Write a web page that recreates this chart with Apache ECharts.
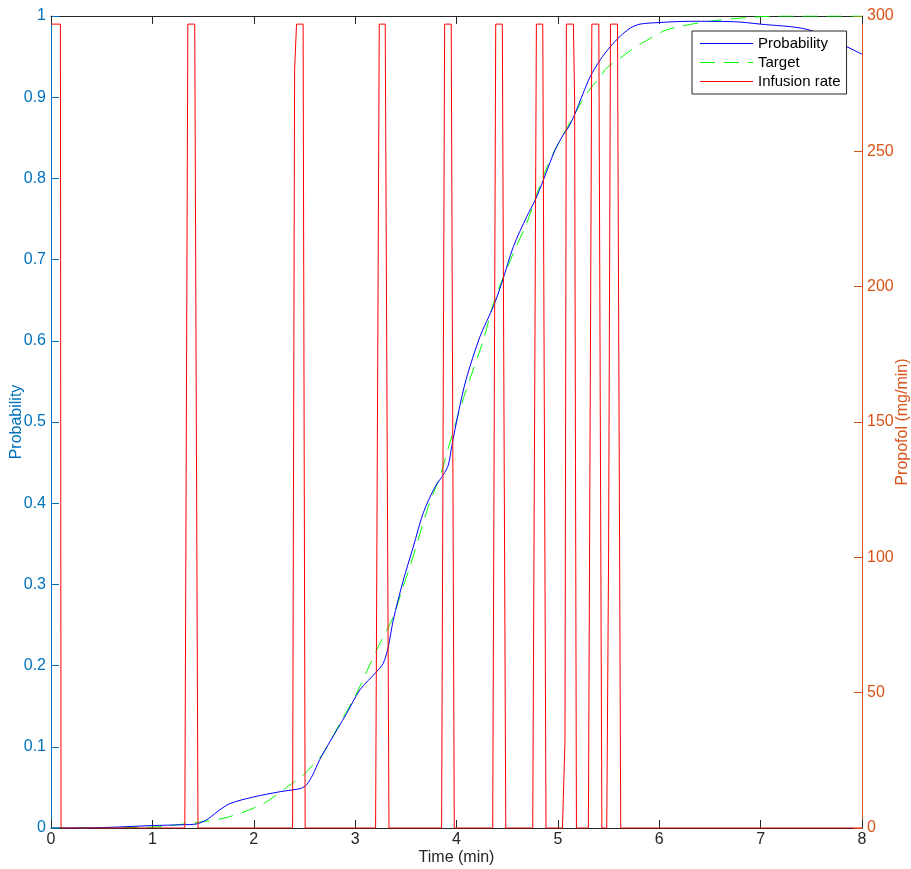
<!DOCTYPE html>
<html>
<head>
<meta charset="utf-8">
<script src="https://cdn.jsdelivr.net/npm/echarts@6/dist/echarts.min.js"></script>
<style>html,body{margin:0;padding:0;background:#fff;}#c{width:911px;height:869px;}</style>
</head>
<body>
<div id="c"></div>
<script>
// ---- data ----
const xTicks = [0,1,2,3,4,5,6,7,8];
const probTime = [0,0.5,1.0,1.3,1.435,1.52,1.58,1.65,1.765,1.99,2.26,2.42,2.47,2.52,2.58,2.65,2.75,2.916,3.047,3.212,3.278,3.327,3.376,3.475,3.573,3.672,3.788,3.870,3.919,3.953,4.018,4.094,4.231,4.363,4.446,4.561,4.693,4.775,4.857,4.972,5.05,5.10,5.153,5.25,5.318,5.417,5.516,5.614,5.713,5.81,6.009,6.305,6.73,6.996,7.457,7.785,8.0];
const probValue = [0,0.0005,0.003,0.004,0.005,0.009,0.014,0.021,0.030,0.038,0.0447,0.0476,0.049,0.053,0.065,0.084,0.106,0.141,0.170,0.1925,0.203,0.223,0.256,0.305,0.346,0.388,0.420,0.435,0.447,0.470,0.511,0.552,0.605,0.642,0.671,0.716,0.753,0.773,0.798,0.835,0.853,0.862,0.875,0.905,0.925,0.946,0.962,0.975,0.985,0.990,0.992,0.9935,0.993,0.990,0.9836,0.966,0.953];
const targetTime = [0,1.0,1.17,1.5,1.764,2.093,2.356,2.472,2.586,2.685,2.85,3.015,3.13,3.245,3.376,3.459,3.541,3.722,3.837,3.919,4.002,4.094,4.265,4.38,4.561,4.693,4.825,4.94,5.187,5.285,5.417,5.482,5.614,5.745,5.877,6.075,6.47,6.865,7.2,8.0];
const targetValue = [0,0.001,0.003,0.0078,0.014,0.030,0.053,0.063,0.078,0.092,0.129,0.166,0.197,0.2275,0.260,0.292,0.322,0.396,0.433,0.468,0.5025,0.539,0.601,0.652,0.708,0.745,0.792,0.827,0.884,0.905,0.925,0.936,0.948,0.960,0.970,0.983,0.993,0.998,1.0,1.0];
const infTime = [0,0.093,0.099, 1.32,1.35,1.418,1.45, 2.383,2.403,2.422,2.487,2.507, 3.202,3.238,3.297,3.334, 3.853,3.883,3.948,3.978, 4.357,4.387,4.452,4.486, 4.752,4.788,4.851,4.883, 5.045,5.07,5.084,5.153,5.165,5.183, 5.301,5.335,5.404,5.434, 5.482,5.50,5.519,5.588,5.62, 8.0];
const infRate = [297,297,0, 0,297,297,0, 0,280,297,297,0, 0,297,297,0, 0,297,297,0, 0,297,297,0, 0,297,297,0, 0,32,297,297,270,0, 0,297,297,0, 0,100,297,297,0, 0];

const pair = (a,b) => a.map((t,i)=>[t,b[i]]);
const FONT = 'Liberation Sans, Arial, Helvetica, sans-serif';
const DARK = '#262626', BLUEAX = '#0072BD', ORANGE = '#D95319';
const FS = 16;
const C_PROB = '#0000ff', C_TGT = '#00ff00', C_INF = '#ff0000';
const DASH = [15,9];
const ICON_SOLID = 'path://M0,0M53,14M0,6.5L53,6.5L53,7.5L0,7.5Z';
const ICON_DASH = 'path://M0,0M53,14M0,6.5L15,6.5L15,7.5L0,7.5Z M24,6.5L39,6.5L39,7.5L24,7.5Z M48,6.5L53,6.5L53,7.5L48,7.5Z';

const chart = echarts.init(document.getElementById('c'), null, {renderer:'canvas'});
chart.setOption({
  animation:false,
  backgroundColor:'#fff',
  textStyle:{fontFamily:FONT},
  grid:{left:51, right:49, top:16, bottom:41, containLabel:false, outerBoundsMode:'none'},
  legend:{
    show:true, orient:'vertical', left:692, top:31,
    backgroundColor:'#fff', borderColor:DARK, borderWidth:1, borderRadius:0,
    padding:[5,6,5,8], itemGap:4, itemWidth:53, itemHeight:14,
    textStyle:{fontFamily:FONT, fontSize:15, color:'#000'},
    data:[
      {name:'Probability', icon:ICON_SOLID, itemStyle:{color:C_PROB, borderWidth:0}},
      {name:'Target', icon:ICON_DASH, itemStyle:{color:C_TGT, borderWidth:0}},
      {name:'Infusion rate', icon:ICON_SOLID, itemStyle:{color:C_INF, borderWidth:0}}
    ]
  },
  xAxis:[{
    type:'value', min:0, max:8, interval:1, position:'bottom',
    name:'Time (min)', nameLocation:'middle', nameGap:22, nameMoveOverlap:false,
    nameTextStyle:{fontFamily:FONT, fontSize:FS, color:DARK},
    axisLine:{show:true, onZero:false, lineStyle:{color:DARK, width:1}},
    axisTick:{show:true, inside:true, length:8, lineStyle:{color:DARK}},
    axisLabel:{fontFamily:FONT, fontSize:FS, color:DARK, margin:4},
    splitLine:{show:false}
  },{
    type:'value', min:0, max:8, interval:1, position:'top',
    axisLine:{show:true, onZero:false, lineStyle:{color:DARK, width:1}},
    axisTick:{show:true, inside:true, length:8, lineStyle:{color:DARK}},
    axisLabel:{show:false}, splitLine:{show:false}
  }],
  yAxis:[{
    type:'value', min:0, max:1, interval:0.1, position:'left',
    name:'Probability', nameLocation:'middle', nameRotate:90, nameGap:26, nameMoveOverlap:false,
    nameTextStyle:{fontFamily:FONT, fontSize:FS, color:BLUEAX},
    axisLine:{show:true, onZero:false, lineStyle:{color:BLUEAX, width:1}},
    axisTick:{show:true, inside:true, length:8, lineStyle:{color:BLUEAX}},
    axisLabel:{fontFamily:FONT, fontSize:FS, color:BLUEAX, margin:5,
      formatter:v => (v===0?'0':(Math.abs(v-1)<1e-9?'1':v.toFixed(1)))},
    splitLine:{show:false}
  },{
    type:'value', min:0, max:300, interval:50, position:'right',
    name:'Propofol (mg/min)', nameLocation:'middle', nameRotate:90, nameGap:33, nameMoveOverlap:false,
    nameTextStyle:{fontFamily:FONT, fontSize:FS, color:ORANGE},
    axisLine:{show:true, onZero:false, lineStyle:{color:ORANGE, width:1}},
    axisTick:{show:true, inside:true, length:8, lineStyle:{color:ORANGE}},
    axisLabel:{fontFamily:FONT, fontSize:FS, color:ORANGE, margin:5},
    splitLine:{show:false}
  }],
  series:[{
    name:'Probability', type:'line', xAxisIndex:0, yAxisIndex:0,
    data:pair(probTime, probValue), showSymbol:false, symbol:'none', smooth:0.3,
    lineStyle:{color:C_PROB, width:1}, itemStyle:{color:C_PROB}, z:3
  },{
    name:'Target', type:'line', xAxisIndex:0, yAxisIndex:0,
    data:pair(targetTime, targetValue), showSymbol:false, symbol:'none', smooth:0.3,
    lineStyle:{color:C_TGT, width:1, type:DASH}, itemStyle:{color:C_TGT}, z:2
  },{
    name:'Infusion rate', type:'line', xAxisIndex:0, yAxisIndex:1,
    data:pair(infTime, infRate), showSymbol:false, symbol:'none',
    lineStyle:{color:C_INF, width:1}, itemStyle:{color:C_INF}, z:4
  }]
});
</script>
</body>
</html>
